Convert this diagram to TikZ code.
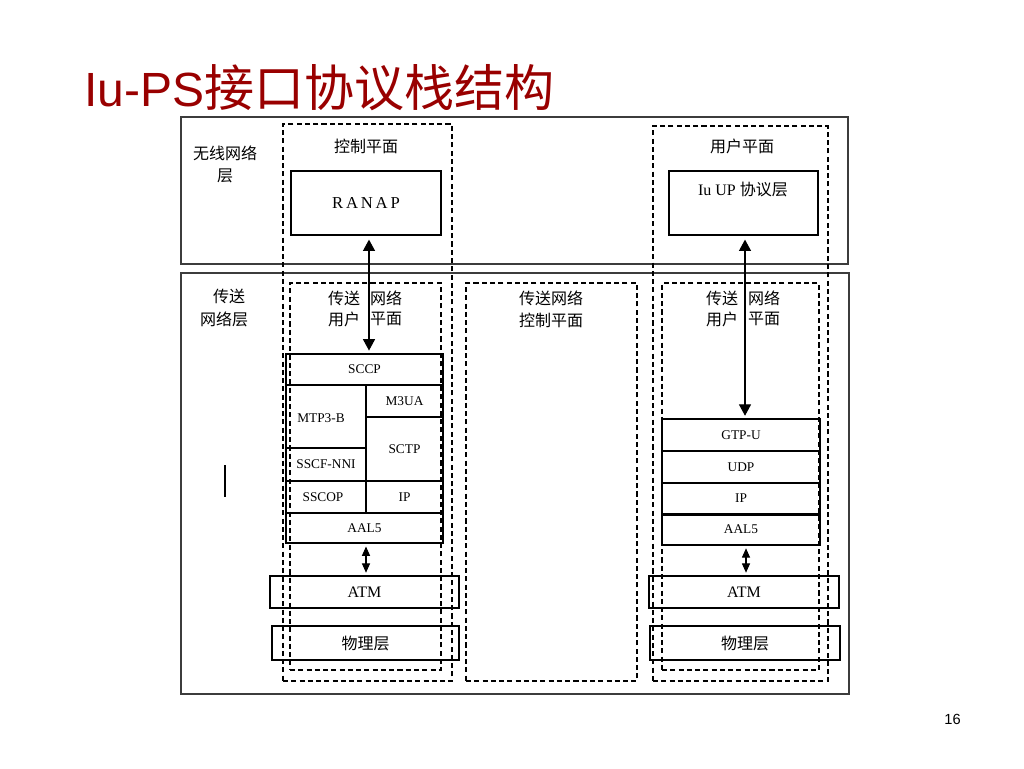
\documentclass[tikz,border=0pt]{standalone}
\usepackage{fontspec}
\setmainfont{Liberation Serif}
\newfontfamily\cjk{Noto Sans CJK SC}
\newfontfamily\arialf{Liberation Sans}
\usetikzlibrary{fit,arrows.meta}
\definecolor{titlered}{RGB}{153,0,0}
\definecolor{frame}{RGB}{60,60,60}
\begin{document}
\begin{tikzpicture}[x=0.75pt,y=-0.75pt,
  outerbox/.style={draw=frame,line width=1.2pt,inner sep=0pt},
  dashbox/.style={draw,line width=0.95pt,dash pattern=on 3.8pt off 2.4pt,inner sep=0pt},
  solidbox/.style={draw,line width=0.9pt,inner sep=0pt},
  stackbox/.style={draw,line width=1.2pt,inner sep=0pt,font=\fontsize{10.5}{12}\selectfont},
  bigbox/.style={draw,line width=0.9pt,inner sep=0pt,font=\fontsize{12.5}{14}\selectfont},
  cjklabel/.style={font=\cjk\fontsize{12}{14}\selectfont,inner sep=0pt},
  longarrow/.style={line width=0.85pt,{Triangle[length=8.5pt,width=9pt]}-{Triangle[length=8.5pt,width=9pt]}},
  shortarrow/.style={line width=0.85pt,{Triangle[length=7pt,width=6pt]}-{Triangle[length=7pt,width=6pt]}}
]
\useasboundingbox (0,0) rectangle (1024,768);
\fill[white] (0,0) rectangle (1024,768);

% title
\node[anchor=base west,inner sep=0pt,text=titlered] (title) at (84,106)
  {\fontsize{36}{40}\selectfont\arialf Iu-PS{\fontsize{37.5}{40}\selectfont\cjk 接口协议栈结构}};
\node[anchor=base east,inner sep=0pt,font=\arialf\fontsize{11}{13}\selectfont] (pagenum) at (961,724) {16};

% outer layers
\node[outerbox,fit={(181,117) (848,264)}] (radiolayer) {};
\node[outerbox,fit={(181,273) (849,694)}] (translayer) {};

% dashed planes
\node[dashbox,fit={(283,124) (452,681)}] (cplane) {};
\node[dashbox,fit={(290,283) (441,670)}] (tuplaneL) {};
\node[dashbox,fit={(466,283) (637,681)}] (tcplane) {};
\node[dashbox,fit={(653,126) (828,681)}] (uplane) {};
\node[dashbox,fit={(662,283) (819,670)}] (tuplaneR) {};

% labels
\node[cjklabel] (l1) at (225,153) {无线网络};
\node[cjklabel] (l2) at (225,176) {层};
\node[cjklabel] (l3) at (366,146) {控制平面};
\node[cjklabel] (l4) at (742,146) {用户平面};
\node[cjklabel] (l5) at (229,296) {传送};
\node[cjklabel] (l6) at (224,319) {网络层};
\node[cjklabel] (l7) at (551,298) {传送网络};
\node[cjklabel] (l8) at (551,320) {控制平面};
\node[cjklabel] (l9) at (344,298) {传送};
\node[cjklabel] (l10) at (386,298) {网络};
\node[cjklabel] (l11) at (344,319) {用户};
\node[cjklabel] (l12) at (386,319) {平面};
\node[cjklabel] (l13) at (722,298) {传送};
\node[cjklabel] (l14) at (764,298) {网络};
\node[cjklabel] (l15) at (722,319) {用户};
\node[cjklabel] (l16) at (764,319) {平面};

% upper boxes
\node[bigbox,fit={(291,171) (441,235)}] (ranap) {};
\node[font=\fontsize{12.5}{14}\selectfont] at (ranap) {R\,A\,N\,A\,P};
\node[bigbox,fit={(669,171) (818,235)}] (iuup) {};
\node[font=\fontsize{12}{14}\selectfont] at (743,189) {Iu UP {\cjk 协议层}};

% left stack
\node[stackbox,fit={(286,354) (443,385)}] (sccp) {};
\node at (sccp) {SCCP};
\node[stackbox,fit={(286,385) (366,448)}] (mtp3b) {};
\node at (321,418) {MTP3-B};
\node[stackbox,fit={(366,385) (443,417)}] (m3ua) {};
\node at (m3ua) {M3UA};
\node[stackbox,fit={(366,417) (443,481)}] (sctp) {};
\node at (sctp) {SCTP};
\node[stackbox,fit={(286,448) (366,481)}] (sscf) {};
\node at (sscf) {SSCF-NNI};
\node[stackbox,fit={(286,481) (366,513)}] (sscop) {};
\node at (323,497) {SSCOP};
\node[stackbox,fit={(366,481) (443,513)}] (ipL) {};
\node at (ipL) {IP};
\node[stackbox,fit={(286,513) (443,543)}] (aalL) {};
\node at (aalL) {AAL5};
\node[solidbox,fit={(270,576) (459,608)}] (atmL) {};
\node[font=\fontsize{12}{14}\selectfont] at (atmL) {ATM};
\node[solidbox,fit={(272,626) (459,660)}] (phyL) {};
\node[cjklabel] at (phyL) {物理层};

% right stack
\node[stackbox,line width=0.9pt,fit={(662,419) (820,451)}] (gtpu) {};
\node at (gtpu) {GTP-U};
\node[stackbox,line width=0.9pt,fit={(662,451) (820,483)}] (udp) {};
\node at (udp) {UDP};
\node[stackbox,line width=0.9pt,fit={(662,483) (820,514)}] (ipR) {};
\node at (ipR) {IP};
\node[stackbox,line width=0.9pt,fit={(662,514) (820,545)}] (aalR) {};
\node at (aalR) {AAL5};
\draw[line width=1.6pt] (ipR.south west) -- (ipR.south east);
\node[solidbox,fit={(649,576) (839,608)}] (atmR) {};
\node[font=\fontsize{12}{14}\selectfont] at (atmR) {ATM};
\node[solidbox,fit={(650,626) (840,660)}] (phyR) {};
\node[cjklabel] at (phyR) {物理层};

% connectors
\coordinate (ax1) at (369,0);
\coordinate (ax2) at (366,0);
\coordinate (ax3) at (745,0);
\coordinate (ax4) at (746,0);
\draw[longarrow,shorten <=3pt,shorten >=2pt] (ranap.south -| ax1) -- (sccp.north -| ax1);
\draw[shortarrow,shorten <=2pt,shorten >=2pt] (aalL.south -| ax2) -- (atmL.north -| ax2);
\draw[longarrow,shorten <=3pt,shorten >=2pt] (iuup.south -| ax3) -- (gtpu.north -| ax3);
\draw[shortarrow,shorten <=2pt,shorten >=2pt] (aalR.south -| ax4) -- (atmR.north -| ax4);

% small mark
\coordinate (m1) at (225,465);
\coordinate (m2) at (225,497);
\draw[line width=0.9pt] (m1) -- (m2);
\end{tikzpicture}
\end{document}
